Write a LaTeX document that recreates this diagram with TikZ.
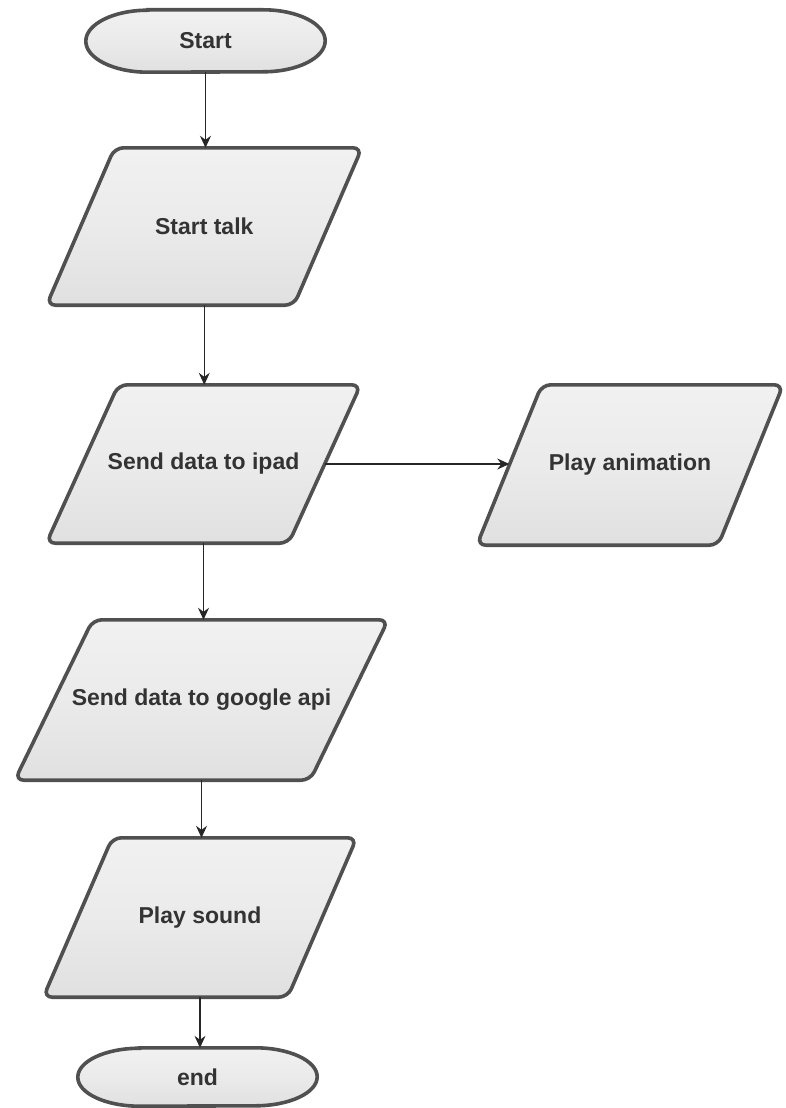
\documentclass[tikz,border=0pt]{standalone}
\usepackage{fontspec}
\setmainfont{Liberation Sans}
\usetikzlibrary{arrows.meta,backgrounds,calc}
\definecolor{edgec}{HTML}{505050}
\definecolor{txtc}{HTML}{333333}
\newcommand\parashape[2]{\draw[outline, rounded corners=9pt] (#1.north) -- ([xshift=#2*0.5pt]#1.north east) -- ([xshift=-#2*0.5pt]#1.south east) -- ([xshift=-#2*0.5pt]#1.south west) -- ([xshift=#2*0.5pt]#1.north west) -- cycle;}
\newcommand\termshape[2]{\draw[outline] ([xshift=62pt]#1.north west) -- ([xshift=-62pt]#1.north east) arc[start angle=90,end angle=-90,x radius=62pt,y radius=#2pt] -- ([xshift=62pt]#1.south west) arc[start angle=-90,end angle=-270,x radius=62pt,y radius=#2pt] -- cycle;}
\begin{document}
\begin{tikzpicture}[x=1pt,y=1pt,
  lbl/.style={inner sep=0pt, text=txtc, font=\fontsize{23}{27}\selectfont\bfseries},
  arr/.style={-{Stealth[length=12pt,width=11pt,inset=4pt]}, line width=1.3pt, draw=black!85},
  outline/.style={draw=edgec, line width=3.6pt, top color=gray!11, bottom color=gray!24, middle color=gray!16}]
\useasboundingbox (0,0) rectangle (785,-1108);
\node[lbl, minimum width=239pt, minimum height=62pt] (start) at (205.5,-41) {Start};
\node[lbl, minimum width=247pt, minimum height=157pt] (talk) at (204.25,-226.5) {Start talk};
\node[lbl, minimum width=242pt, minimum height=158pt] (ipad) at (203.5,-464) {Send data to ipad};
\node[lbl, minimum width=241pt, minimum height=160pt] (anim) at (630,-465) {Play animation};
\node[lbl, minimum width=295pt, minimum height=160pt] (google) at (201.5,-700) {Send data to google api};
\node[lbl, minimum width=244pt, minimum height=159pt] (sound) at (200,-917.5) {Play sound};
\node[lbl, minimum width=239pt, minimum height=58pt] (end) at (197.5,-1077) {end};
\begin{scope}[on background layer]
\termshape{start}{31}
\parashape{talk}{68}
\parashape{ipad}{72}
\parashape{anim}{65}
\parashape{google}{78}
\parashape{sound}{69}
\termshape{end}{29}
\end{scope}
\draw[arr] (start.south) -- (start.south |- talk.north);
\draw[arr] (talk.south) -- (talk.south |- ipad.north);
\draw[arr] (ipad.east) -- (ipad.east -| anim.west);
\draw[arr] (ipad.south) -- (ipad.south |- google.north);
\draw[arr] (google.south) -- (google.south |- sound.north);
\draw[arr] (sound.south) -- (sound.south |- end.north);
\end{tikzpicture}
\end{document}
